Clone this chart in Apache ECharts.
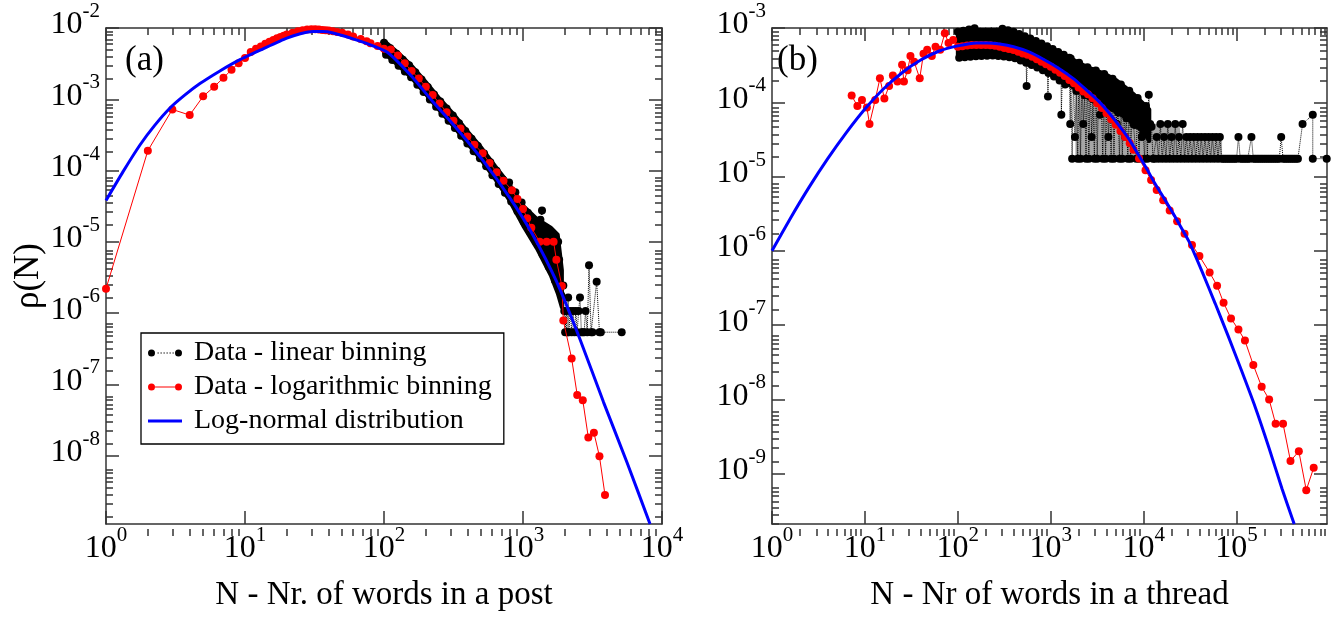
<!DOCTYPE html>
<html><head><meta charset="utf-8">
<script src="https://cdn.jsdelivr.net/npm/echarts@6/dist/echarts.min.js"></script>
<style>html,body{margin:0;padding:0;background:#fff}#c{width:1336px;height:617px}</style>
</head><body><div id="c"></div>
<script>
// ---------- tick values ----------
const postXTicks = [1, 10, 100, 1000, 10000];
const postYTicks = [1e-8, 1e-7, 1e-6, 1e-5, 1e-4, 1e-3, 1e-2];
const threadXTicks = [1, 10, 100, 1000, 10000, 100000];
const threadYTicks = [1e-9, 1e-8, 1e-7, 1e-6, 1e-5, 1e-4, 1e-3];
const postXRange = [1, 1e4], postYRange = [1.1e-9, 1e-2];
const threadXRange = [1, 9.4e5], threadYRange = [2.1e-10, 1e-3];

// ---------- panel (a): words in a post ----------
const postLinear = [
[100,6.2e-3],[103.5,4.2e-3],[107.2,4.7e-3],[110.9,5.2e-3],[114.8,3.56e-3],[118.9,3.94e-3],[123,4.35e-3],[127.4,2.96e-3],[131.8,3.27e-3],[136.5,3.6e-3],
[141.3,2.45e-3],[146.2,2.71e-3],[151.4,2.99e-3],[156.7,2.04e-3],[162.2,2.22e-3],[167.9,2.4e-3],[173.8,1.6e-3],[179.9,1.73e-3],[186.2,1.89e-3],[192.8,1.27e-3],
[199.5,1.38e-3],[206.5,1.49e-3],[213.8,9.95e-4],[221.3,1.08e-3],[229.1,1.17e-3],[237.1,7.85e-4],[245.5,8.55e-4],[254.1,9.3e-4],[263,6.25e-4],[272.3,6.8e-4],
[281.8,7.4e-4],[291.7,4.98e-4],[302,5.42e-4],[312.6,5.9e-4],[323.6,3.94e-4],[335,4.27e-4],[346.7,4.61e-4],[358.9,3.08e-4],[371.5,3.33e-4],[384.6,3.6e-4],
[398.1,2.4e-4],[412.1,2.6e-4],[426.6,2.8e-4],[441.6,1.87e-4],[457.1,2.03e-4],[473.2,2.21e-4],[489.8,1.49e-4],[507,1.61e-4],[524.8,1.73e-4],[543.3,1.15e-4],
[562.3,1.23e-4],[582.1,1.31e-4],[602.6,8.6e-5],[623.7,9.2e-5],[645.7,9.9e-5],[668.3,6.5e-5],[691.8,7.0e-5],[716.1,7.5e-5],[741.3,4.9e-5],[767.4,5.3e-5],
[794.3,6.8e-5],[822.2,3.67e-5],[851.1,4.27e-5],[881,4.95e-5],[912,2.68e-5],[944.1,3.09e-5],[977.2,3.56e-5],[1012,1.92e-5],[1047,2.22e-5],[1084,2.56e-5],
[1122,1.38e-5],[1161,1.59e-5],[1202,1.84e-5],[1245,9.9e-6],[1288,1.39e-5],[1334,2.04e-5],[1370,2.75e-5],[1380,6.7e-6],[1429,9.5e-6],[1479,1.38e-5],
[1531,4.47e-6],[1585,6.3e-6],[1641,9.0e-6],[1698,2.87e-6],[1758,4.0e-6],[1790,1.0e-5],[1820,5.6e-6],[1884,1.78e-6],[1950,2.45e-6],
[1980,1.07e-6],[2010,5.4e-7],[2042,1.07e-6],[2070,5.4e-7],[2100,5.4e-7],[2113,1.66e-6],[2138,5.4e-7],[2188,1.07e-6],[2239,5.4e-7],[2291,1.07e-6],
[2344,5.4e-7],[2399,1.07e-6],[2455,5.4e-7],[2512,1.07e-6],[2570,1.66e-6],[2630,5.4e-7],[2692,5.4e-7],[2754,5.4e-7],[2818,1.07e-6],[2900,5.4e-7],
[2985,4.7e-6],[3090,5.4e-7],[3162,5.4e-7],[3388,2.75e-6],[3548,5.4e-7],[3631,5.4e-7],[5129,5.4e-7]
];
// outer edges of the dense black cloud of linear-binning points (panel a)
const postCloudUpper = [[100,6.6e-3],[126,4.5e-3],[158,2.95e-3],[200,1.74e-3],[251,1.02e-3],[316,6.2e-4],[398,3.55e-4],[501,2.1e-4],[631,1.15e-4],[794,6.5e-5],[1000,3.2e-5],[1259,2.1e-5],[1585,1.58e-5],[1778,1.26e-5],[1905,4.0e-6]];
const postCloudLower = [[100,4.5e-3],[126,3.0e-3],[158,2.0e-3],[200,1.18e-3],[251,7.0e-4],[316,4.2e-4],[398,2.4e-4],[501,1.41e-4],[631,7.6e-5],[794,3.9e-5],[1000,1.7e-5],[1259,8.1e-6],[1585,3.4e-6],[1778,1.9e-6],[1905,1.2e-6]];
const postLog = [
[1,2.2e-6],[2,1.9e-4],[3,7.2e-4],[4,6.0e-4],[5,1.1e-3],[6,1.5e-3],[7,2.0e-3],[8,2.6e-3],[9,3.2e-3],[10,3.8e-3],
[11,4.6e-3],[12,5.1e-3],[13,5.5e-3],[14,6.0e-3],[15,6.4e-3],[16,6.8e-3],[17,7.2e-3],[18,7.5e-3],[19,7.8e-3],[20,8.1e-3],
[22,8.6e-3],[24,9.0e-3],[26,9.3e-3],[28,9.5e-3],[30,9.6e-3],[32,9.6e-3],[34,9.5e-3],[36,9.4e-3],[38,9.3e-3],[40,9.2e-3],
[43,9.0e-3],[46,8.8e-3],[50,8.6e-3],[55,8.1e-3],[60,7.6e-3],[68,7.0e-3],[75,6.5e-3],[80,6.1e-3],[90,5.6e-3],[100,5.1e-3],
[112,5.0e-3],[126,4.1e-3],[141,3.2e-3],[158,2.5e-3],[178,1.95e-3],[200,1.5e-3],[224,1.15e-3],[251,8.7e-4],[282,6.6e-4],[316,5.0e-4],
[355,3.9e-4],[398,3.0e-4],[447,2.3e-4],[513,1.75e-4],[575,1.28e-4],[646,9.5e-5],[724,7.2e-5],[832,5.3e-5],[912,4.0e-5],[1000,2.9e-5],
[1072,2.15e-5],[1148,1.58e-5],[1318,1.0e-5],[1479,1.0e-5],[1660,1.0e-5],[1738,5.6e-6],[1905,2.4e-6],[1950,7.9e-7],[2239,2.3e-7],[2455,7.1e-8],
[2692,6.0e-8],[2951,1.8e-8],[3236,2.1e-8],[3548,9.8e-9],[3890,2.8e-9]
];
const postFit = [
[1,3.8e-5],[1.32,9.5e-5],[1.76,2.3e-4],[2.24,4.3e-4],[2.9,7.6e-4],[3.7,1.15e-3],[4.74,1.66e-3],[6.6,2.5e-3],[9.2,3.6e-3],[13.5,5.1e-3],
[20,7.2e-3],[25,8.3e-3],[31,8.9e-3],[36,8.9e-3],[43,8.5e-3],[68,6.5e-3],[105,4.6e-3],[158,2.1e-3],[224,9.3e-4],[316,4.4e-4],
[513,1.4e-4],[813,4.0e-5],[1175,1.26e-5],[1738,2.8e-6],[2570,4.3e-7],[3800,5.6e-8],[5620,7.9e-9],[8200,1.1e-9]
];

// ---------- panel (b): words in a thread ----------
const threadLinear = [
[100,8.9e-4],[103.5,3.98e-4],[107.2,6.9e-4],[110.9,5.28e-4],[114.8,9.2e-4],[118.9,4.05e-4],[123,7.1e-4],[127.4,5.4e-4],[131.8,9.55e-4],[136.5,4.1e-4],
[141.3,7.3e-4],[146.2,5.5e-4],[151.4,9.9e-4],[156.7,4.16e-4],[162.2,7.5e-4],[167.9,5.6e-4],[173.8,1.01e-3],[179.9,4.19e-4],[186.2,7.6e-4],[192.8,5.65e-4],
[199.5,1.02e-3],[206.5,4.22e-4],[213.8,7.66e-4],[221.3,5.7e-4],[229.1,1.04e-3],[237.1,4.25e-4],[245.5,7.74e-4],[254.1,5.74e-4],[263,1.03e-3],[272.3,4.21e-4],
[281.8,7.5e-4],[291.7,5.57e-4],[302,9.8e-4],[312.6,4.13e-4],[323.6,7.2e-4],[335,5.4e-4],[346.7,9.35e-4],[358.9,4.04e-4],[371.5,6.95e-4],[384.6,5.25e-4],
[398.1,8.9e-4],[412.1,3.91e-4],[426.6,6.58e-4],[441.6,4.94e-4],[457.1,8.3e-4],[473.2,3.65e-4],[489.8,6.14e-4],[507,4.61e-4],[524.8,7.76e-4],[543.3,3.41e-4],
[550,1.66e-4],[562.3,5.73e-4],[582.1,4.31e-4],[602.6,7.24e-4],[623.7,3.18e-4],[645.7,5.33e-4],[668.3,4.0e-4],[691.8,6.7e-4],[716.1,2.93e-4],[741.3,4.91e-4],
[767.4,3.68e-4],[794.3,6.17e-4],[822.2,2.7e-4],[851.1,4.52e-4],[881,3.39e-4],[912,5.68e-4],[933,1.2e-4],[944.1,2.48e-4],[977.2,4.16e-4],[1012,3.11e-4],
[1047,5.21e-4],[1084,2.23e-4],[1122,3.78e-4],[1161,2.78e-4],[1202,4.76e-4],[1245,1.97e-4],[1288,3.41e-4],[1300,6.8e-5],[1334,2.48e-4],[1380,4.36e-4],
[1429,1.74e-4],[1479,3.08e-4],[1531,2.22e-4],[1585,3.98e-4],[1620,5.1e-5],
[1641,3.89e-4],[1698,1.74e-5],[1758,2.35e-4],[1820,3.4e-5],[1884,1.42e-4],[1950,1.74e-5],[2018,3.4e-4],[2089,1.74e-5],[2163,2.05e-4],[2239,5.1e-5],
[2317,1.24e-4],[2399,1.74e-5],[2483,2.97e-4],[2570,1.74e-5],[2661,1.81e-4],[2754,3.4e-5],[2851,1.1e-4],[2951,1.74e-5],[3055,2.68e-4],[3162,1.74e-5],
[3273,1.63e-4],[3388,6.8e-5],[3508,9.9e-5],[3631,1.74e-5],[3758,2.41e-4],[3890,1.74e-5],[4027,1.47e-4],[4169,3.4e-5],[4315,8.7e-5],[4467,1.74e-5],
[4624,2.07e-4],[4786,1.74e-5],[4955,1.23e-4],[5129,5.1e-5],[5309,7.3e-5],[5495,1.74e-5],[5689,1.73e-4],[5888,1.74e-5],[6095,1.03e-4],[6310,3.4e-5],
[6531,6.1e-5],[6761,1.74e-5],[6998,1.43e-4],[7244,1.74e-5],[7499,8.4e-5],[7762,5.1e-5],[8035,4.94e-5],[8318,1.74e-5],[8610,1.14e-4],[8913,1.74e-5],
[9226,6.6e-5],[9550,3.4e-5],[9886,3.85e-5],[10230,1.74e-5],[10590,8.9e-5],[10960,1.74e-5],[11350,1.26e-4],[11750,5.1e-5],[12160,4.7e-5],[12590,1.74e-5],
[13180,1.74e-5],[13800,3.4e-5],[14450,1.74e-5],[15140,5.1e-5],[15850,1.74e-5],[16600,3.4e-5],[17380,1.74e-5],[18200,5.1e-5],[19050,1.74e-5],[19950,3.4e-5],
[20890,1.74e-5],[21880,5.1e-5],[22910,1.74e-5],[23990,3.4e-5],[25120,1.74e-5],[26300,5.1e-5],[27540,1.74e-5],[28840,3.4e-5],[30200,1.74e-5],[31620,3.4e-5],
[33110,1.74e-5],[34670,3.4e-5],[36310,1.74e-5],[38020,3.4e-5],[39810,1.74e-5],[41690,3.4e-5],[43650,1.74e-5],[45710,3.4e-5],[47860,1.74e-5],[50120,3.4e-5],
[52480,1.74e-5],[54950,3.4e-5],[57540,1.74e-5],[60260,3.4e-5],[63100,1.74e-5],[66070,3.4e-5],[69180,1.74e-5],[72440,1.74e-5],[75860,1.74e-5],[79430,1.74e-5],
[83180,1.74e-5],[87100,1.74e-5],[91200,1.74e-5],[95500,1.74e-5],[100000,1.74e-5],[104700,3.4e-5],[109600,1.74e-5],[114800,1.74e-5],[120200,1.74e-5],[125900,1.74e-5],
[131800,1.74e-5],[138000,1.74e-5],[144500,3.4e-5],[151400,1.74e-5],[158500,1.74e-5],[166000,1.74e-5],[173800,1.74e-5],[182000,1.74e-5],[190500,1.74e-5],[199500,1.74e-5],
[208900,1.74e-5],[218800,1.74e-5],[229100,1.74e-5],[239900,1.74e-5],[251200,1.74e-5],[263000,1.74e-5],[275400,1.74e-5],[288400,1.74e-5],[302000,3.4e-5],[316200,1.74e-5],
[331100,1.74e-5],[346700,1.74e-5],[363100,1.74e-5],[380200,1.74e-5],[398100,1.74e-5],[416900,1.74e-5],[436500,1.74e-5],[457100,1.74e-5],[512900,5.1e-5],[660700,6.8e-5],
[660700,1.74e-5],[933300,1.74e-5]
];
// outer edges of the dense black cloud of linear-binning points (panel b)
const threadCloudUpper = [[100,9.0e-4],[126,9.6e-4],[158,1.0e-3],[200,1.05e-3],[251,1.05e-3],[316,9.8e-4],[398,8.9e-4],[501,7.9e-4],[631,7.1e-4],[794,6.2e-4],[1000,5.4e-4],[1259,4.7e-4],[1585,4.0e-4],[2000,3.4e-4],[2512,2.95e-4],[3162,2.65e-4],[3981,2.35e-4],[5012,2.0e-4],[6310,1.6e-4],[7943,1.26e-4],[10000,9.5e-5],[11500,8.0e-5]];
const threadCloudLower = [[100,3.9e-4],[126,4.0e-4],[158,4.15e-4],[200,4.2e-4],[251,4.2e-4],[316,4.1e-4],[398,3.9e-4],[501,3.6e-4],[631,3.2e-4],[794,2.8e-4],[1000,2.4e-4],[1259,2.1e-4],[1585,1.7e-4],[2000,1.4e-4],[2512,1.15e-4],[3162,9.5e-5],[3981,8.5e-5],[5012,7.5e-5],[6310,6.3e-5],[7943,5.0e-5],[10000,4.0e-5],[11500,3.0e-5]];
// edges of the sparser, dotted part of the same cloud (between the cloud and the one-count floor)
const threadSparseUpper = [[1860,1.5e-4],[2512,1.15e-4],[3162,9.5e-5],[3981,8.5e-5],[5012,7.5e-5],[6310,6.3e-5],[7943,5.0e-5],[10000,4.0e-5],[11500,5.1e-5],[24000,5.1e-5],[25000,3.4e-5],[69000,3.4e-5]];
const threadSparseLower = [[1860,1.74e-5],[69000,1.74e-5]];
const threadLog = [
[7.2,1.23e-4],[8.3,8.9e-5],[9.3,1.07e-4],[10.5,8.5e-5],[11.2,5.1e-5],[12.9,1.07e-4],[14.5,2.1e-4],[16.2,1.12e-4],[18.2,1.66e-4],[20,2.3e-4],
[22.4,1.9e-4],[25.1,3.2e-4],[26.3,1.9e-4],[28.8,2.7e-4],[30.9,4.2e-4],[33.9,3.5e-4],[38.9,2.1e-4],[42.7,4.5e-4],[46.8,5.1e-4],[52.5,4.2e-4],
[57.5,5.6e-4],[64.6,5.1e-4],[72.4,8.5e-4],[79.4,6.3e-4],[89.1,6.9e-4],[100,5.6e-4],[112,5.7e-4],[126,5.8e-4],[141,5.9e-4],[158,5.9e-4],
[178,5.9e-4],[200,5.9e-4],[224,5.85e-4],[251,5.75e-4],[282,5.6e-4],[316,5.4e-4],[355,5.2e-4],[398,5.05e-4],[447,4.8e-4],[501,4.55e-4],
[562,4.35e-4],[631,4.1e-4],[708,3.8e-4],[794,3.5e-4],[891,3.25e-4],[1000,3.0e-4],[1122,2.75e-4],[1259,2.5e-4],[1413,2.25e-4],[1585,2.0e-4],
[1778,1.8e-4],[1995,1.58e-4],[2239,1.4e-4],[2512,1.28e-4],[2818,1.13e-4],[3162,9.7e-5],[3548,8.4e-5],[3981,7.1e-5],[4467,5.9e-5],[5012,5.0e-5],
[5623,4.1e-5],[6310,3.4e-5],[7079,2.8e-5],[7762,2.3e-5],[8913,1.75e-5],[10470,1.22e-5],[12020,9.0e-6],[13800,6.6e-6],[16220,4.8e-6],[19050,3.5e-6],
[22910,2.5e-6],[27540,1.7e-6],[33110,1.2e-6],[39810,8.5e-7],[51290,5.1e-7],[61660,3.4e-7],[72440,2.0e-7],[87100,1.23e-7],[104700,8.7e-8],[123000,6.2e-8],
[151400,2.9e-8],[186200,1.48e-8],[223900,1.0e-8],[263000,4.7e-9],[316200,4.7e-9],[380200,1.48e-9],[467700,2.0e-9],[562300,6.0e-10],[676100,1.2e-9]
];
const threadFit = [
[1,1.0e-6],[1.58,2.75e-6],[2.51,7.2e-6],[3.98,1.74e-5],[6.31,3.9e-5],[10,8.1e-5],[15.8,1.51e-4],[25.1,2.5e-4],[39.8,3.7e-4],[63.1,4.9e-4],
[100,5.75e-4],[158,6.3e-4],[209,6.3e-4],[282,6.1e-4],[398,5.6e-4],[575,4.8e-4],[832,3.8e-4],[1202,2.9e-4],[1738,2.1e-4],[2399,1.48e-4],
[3311,1.02e-4],[4365,6.9e-5],[5623,4.6e-5],[7079,3.1e-5],[8710,2.0e-5],[10720,1.29e-5],[13180,8.1e-6],[16410,5.2e-6],[20420,3.3e-6],[25120,2.1e-6],
[30900,1.32e-6],[42660,5.2e-7],[58880,1.95e-7],[81280,7.1e-8],[112200,2.5e-8],[158500,7.9e-9],[223900,2.2e-9],[309000,6.2e-10],[416900,2.1e-10]
];

const seriesNames = ['Data - linear binning', 'Data - logarithmic binning', 'Log-normal distribution'];

// ---------- styling ----------
const FONT = 'Liberation Serif';
const AX = '#333';
function minorsOf(range) {
  const out = [];
  const lo = Math.floor(Math.log10(range[0])), hi = Math.ceil(Math.log10(range[1]));
  for (let e = lo; e < hi; e++) for (let m = 2; m <= 9; m++) {
    const v = m * Math.pow(10, e);
    if (v > range[0] && v < range[1]) out.push(v);
  }
  return out;
}
function fmt(v) { return '{b|10}{s|' + Math.round(Math.log10(v)) + '}'; }
const rich = {
  b: {fontFamily: FONT, fontSize: 32, lineHeight: 36, verticalAlign: 'bottom', color: '#000'},
  s: {fontFamily: FONT, fontSize: 21, lineHeight: 21, padding: [0, 0, 23, 0], color: '#000'}
};
const lineStyle = {color: AX, width: 1.5};

function axisPair(dim, grid, range, majors, opts) {
  const pos = dim === 'x' ? ['bottom', 'top'] : ['left', 'right'];
  const minors = minorsOf(range);
  const base = {type: 'log', min: range[0], max: range[1], splitLine: {show: false}, silent: true};
  const main = [
    Object.assign({}, base, {gridIndex: grid, position: pos[0],
      axisLine: {show: true, lineStyle}, axisTick: {show: true, inside: true, length: 13, customValues: majors, lineStyle},
      axisLabel: {show: true, customValues: majors, formatter: fmt, rich, margin: opts.margin, padding: opts.pad},
      name: opts.name || '', nameLocation: 'middle', nameGap: opts.nameGap,
      nameTextStyle: {fontFamily: FONT, fontSize: opts.nameSize, color: '#000'}}),
    Object.assign({}, base, {gridIndex: grid, position: pos[1],
      axisLine: {show: true, lineStyle}, axisTick: {show: true, inside: true, length: 13, customValues: majors, lineStyle},
      axisLabel: {show: false}})
  ];
  const minor = [
    Object.assign({}, base, {gridIndex: grid + 1, position: pos[0],
      axisLine: {show: false}, axisTick: {show: true, inside: true, length: 7, customValues: minors, lineStyle},
      axisLabel: {show: false}}),
    Object.assign({}, base, {gridIndex: grid + 1, position: pos[1],
      axisLine: {show: false}, axisTick: {show: true, inside: true, length: 7, customValues: minors, lineStyle},
      axisLabel: {show: false}})
  ];
  return main.concat(minor);
}

const rectA = {left: 106, top: 28, width: 556, height: 508};
const rectB = {left: 772, top: 28, width: 555, height: 508};
const grid = [rectA, rectA, rectB, rectB].map(r => Object.assign({containLabel: false}, r));

const xAxis = [].concat(
  axisPair('x', 0, postXRange, postXTicks, {margin: 5, name: 'N - Nr. of words in a post', nameGap: 55, nameSize: 33}),
  axisPair('x', 2, threadXRange, threadXTicks, {margin: 5, name: 'N - Nr of words in a thread', nameGap: 55, nameSize: 33})
);
const yAxis = [].concat(
  axisPair('y', 0, postYRange, postYTicks, {margin: 6, pad: [0, 0, 10, 0], name: 'ρ(N)', nameGap: 58, nameSize: 35}),
  axisPair('y', 2, threadYRange, threadYTicks, {margin: 6, pad: [0, 0, 10, 0]})
);

function mk(name, data, xi, yi, kind) {
  const s = {name, type: 'line', data, xAxisIndex: xi, yAxisIndex: yi, animation: false, clip: true, silent: true, z: 2};
  if (kind === 'lin') Object.assign(s, {symbol: 'circle', symbolSize: 8, itemStyle: {color: '#000'},
    lineStyle: {color: '#000', width: 1, type: 'dotted'}});
  if (kind === 'log') Object.assign(s, {symbol: 'circle', symbolSize: 8, itemStyle: {color: '#ff0000'},
    lineStyle: {color: '#ff0000', width: 1}, z: 3});
  if (kind === 'fit') Object.assign(s, {symbol: 'none', smooth: 0.2, itemStyle: {color: '#0000ff'},
    lineStyle: {color: '#0000ff', width: 3}, z: 4});
  return s;
}

// the filled-looking parts of a dense point cloud, bounded by their read-off edges
function cloud(parts, xi, yi) {
  return {type: 'custom', xAxisIndex: xi, yAxisIndex: yi, silent: true, animation: false, clip: true, z: 1,
    data: [parts[0].upper[0]],
    renderItem: function (params, api) {
      return {type: 'group', children: parts.map(function (part) {
        const pts = part.upper.map(p => api.coord(p)).concat(part.lower.slice().reverse().map(p => api.coord(p)));
        return {type: 'polygon', shape: {points: pts},
          style: {fill: part.fill, stroke: part.fill, lineWidth: part.lw, lineJoin: 'round'}};
      })};
    }};
}
const series = [
  cloud([{upper: postCloudUpper, lower: postCloudLower, fill: '#000', lw: 4}], 0, 0),
  mk(seriesNames[0], postLinear, 0, 0, 'lin'),
  mk(seriesNames[1], postLog, 0, 0, 'log'),
  mk(seriesNames[2], postFit, 0, 0, 'fit'),
  cloud([{upper: threadSparseUpper, lower: threadSparseLower, fill: 'rgba(0,0,0,0.35)', lw: 0.5},
         {upper: threadCloudUpper, lower: threadCloudLower, fill: '#000', lw: 4}], 4, 4),
  mk(seriesNames[0], threadLinear, 4, 4, 'lin'),
  mk(seriesNames[1], threadLog, 4, 4, 'log'),
  mk(seriesNames[2], threadFit, 4, 4, 'fit')
];

const circ = (cx) => 'M' + (cx - 3.5) + ',4A3.5,3.5,0,1,1,' + (cx + 3.5) + ',4A3.5,3.5,0,1,1,' + (cx - 3.5) + ',4Z';
const iconLin = 'path://' + circ(3.5) + [9.5, 12.5, 15.5, 18.5, 21.5, 24.5].map(x => 'M' + x + ',3.4h1.3v1.2h-1.3Z').join('') + circ(30.5);
const iconLog = 'path://' + circ(3.5) + 'M7,3.4H27V4.6H7Z' + circ(30.5);
const iconFit = 'path://M0,2.5H34V5.5H0Z';

const option = {
  animation: false,
  backgroundColor: '#fff',
  grid, xAxis, yAxis, series,
  legend: {
    left: 141, top: 333, orient: 'vertical', selectedMode: false, z: 10,
    backgroundColor: '#fff', borderColor: '#000', borderWidth: 1.3, padding: [5, 12, 8, 7],
    itemWidth: 34, itemHeight: 8, itemGap: 4,
    textStyle: {fontFamily: FONT, fontSize: 28, lineHeight: 30, color: '#000', padding: [0, 0, 0, 7]},
    data: [
      {name: seriesNames[0], icon: iconLin},
      {name: seriesNames[1], icon: iconLog},
      {name: seriesNames[2], icon: iconFit}
    ]
  },
  graphic: [
    {type: 'text', left: 125, top: 43, style: {text: '(a)', font: '35px "Liberation Serif"', fill: '#000'}},
    {type: 'text', left: 777, top: 43, style: {text: '(b)', font: '35px "Liberation Serif"', fill: '#000'}}
  ]
};
const chart = echarts.init(document.getElementById('c'), null, {renderer: 'canvas'});
chart.setOption(option);
</script></body></html>
